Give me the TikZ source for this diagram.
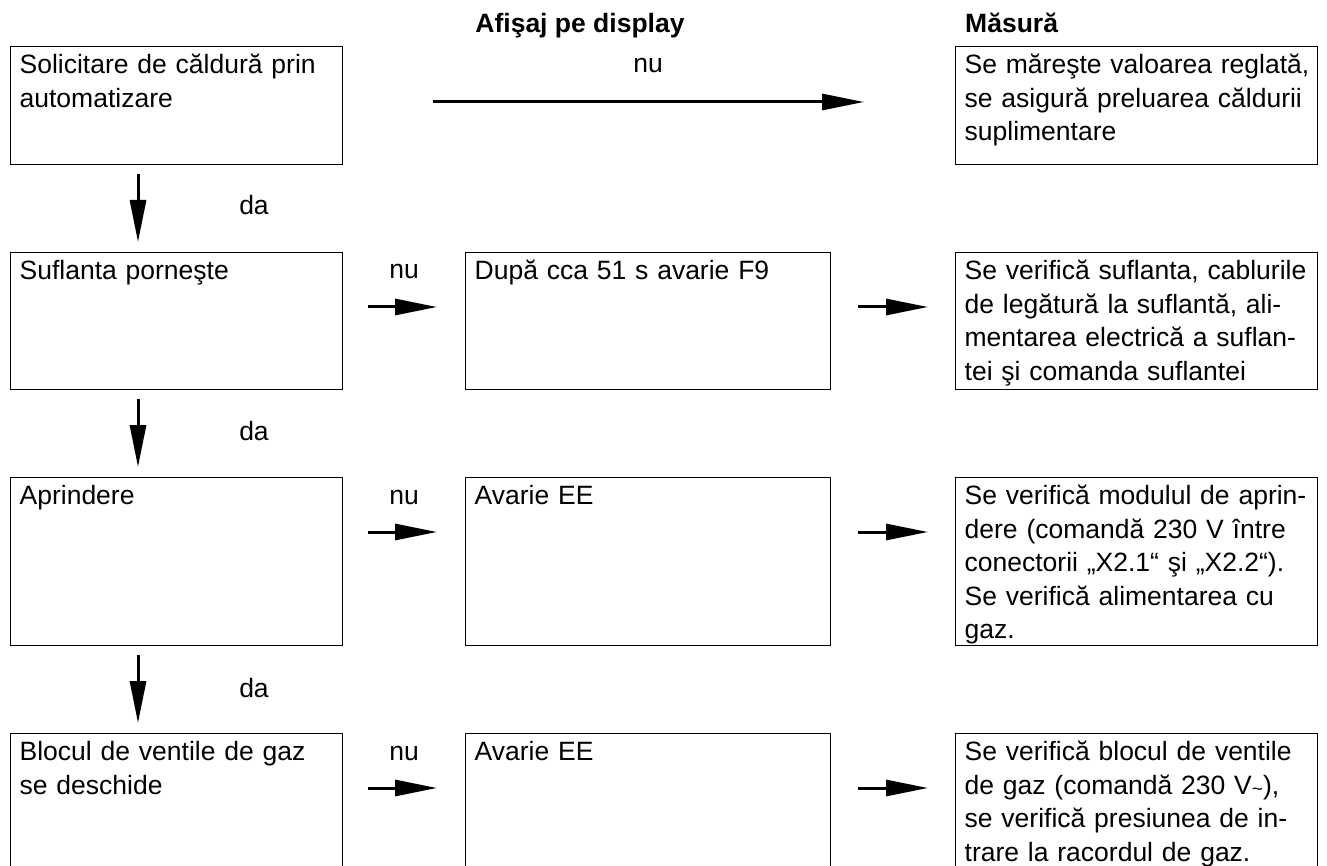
\documentclass[tikz,border=0pt]{standalone}
\usepackage{fontspec}
\setmainfont{Liberation Sans}
\usetikzlibrary{arrows.meta}
\newcommand{\flowfont}{\fontsize{26.5}{33.5}\selectfont}
\newcommand{\acsign}{{\fontsize{19}{19}\selectfont\raisebox{-1.5pt}{\textasciitilde}}}

\begin{document}
\begin{tikzpicture}[x=1pt,y=-1pt,
  stepbox/.style={draw,line width=1.3pt,anchor=north west,align=left,inner xsep=9pt,inner ysep=0pt,text height=27pt,font=\flowfont},
  colA/.style={stepbox,text width=314pt},
  colB/.style={stepbox,text width=347pt},
  colC/.style={stepbox,text width=344pt},
  flow/.style={line width=3pt,-{Triangle[length=42pt,width=16pt]}},
  tag/.style={font=\flowfont,anchor=base,inner sep=0pt},
  head/.style={font=\flowfont\bfseries,inner sep=0pt}]
  \useasboundingbox (0,0) rectangle (1327,866);
  \clip (0,0) rectangle (1327,866);
  % column heads
  \node[head,anchor=base] (hdisp) at (580,33) {Afişaj pe display};
  \node[head,anchor=base west] (hmeas) at (965,33) {Măsură};
  % row 1
  \node[colA,text depth=91pt] (s1) at (10,46) {Solicitare de căldură prin\\automatizare};
  \node[colC,text depth=91pt] (m1) at (955,46) {\mbox{Se măreşte valoarea reglată,}\\se asigură preluarea căldurii\\suplimentare};
  \node[tag] (nu1) at (648,73) {nu};
  \draw[flow,shorten <=90pt,shorten >=91pt] ([yshift=-56pt]s1.north east) -- ([yshift=-56pt]m1.north west);
  % row 2
  \node[colA,text depth=110pt] (s2) at (10,252) {Suflanta porneşte};
  \node[colB,text depth=110pt] (d2) at (465,252) {După cca 51 s avarie F9};
  \node[colC,text depth=110pt] (m2) at (955,252) {Se verifică suflanta, cablurile\\de legătură la suflantă, ali-\\mentarea electrică a suflan-\\tei şi comanda suflantei};
  \node[tag] (da1) at (254,215) {da};
  \node[tag] (nu2) at (404,279) {nu};
  \draw[flow,shorten <=9pt,shorten >=10pt] ([xshift=128pt]s1.south west) -- ([xshift=128pt]s2.north west);
  \draw[flow,shorten <=25pt,shorten >=28pt] ([yshift=-55pt]s2.north east) -- ([yshift=-55pt]d2.north west);
  \draw[flow,shorten <=27pt,shorten >=27pt] ([yshift=-55pt]d2.north east) -- ([yshift=-55pt]m2.north west);
  % row 3
  \node[colA,text depth=141pt] (s3) at (10,477) {Aprindere};
  \node[colB,text depth=141pt] (d3) at (465,477) {Avarie EE};
  \node[colC,text depth=141pt] (m3) at (955,477) {Se verifică modulul de aprin-\\dere (comandă 230 V între\\conectorii „X2.1“ şi „X2.2“).\\Se verifică alimentarea cu\\gaz.};
  \node[tag] (da2) at (254,440) {da};
  \node[tag] (nu3) at (404,504) {nu};
  \draw[flow,shorten <=9pt,shorten >=10pt] ([xshift=128pt]s2.south west) -- ([xshift=128pt]s3.north west);
  \draw[flow,shorten <=25pt,shorten >=28pt] ([yshift=-55pt]s3.north east) -- ([yshift=-55pt]d3.north west);
  \draw[flow,shorten <=27pt,shorten >=27pt] ([yshift=-55pt]d3.north east) -- ([yshift=-55pt]m3.north west);
  % row 4
  \node[colA,text depth=173pt] (s4) at (10,733) {Blocul de ventile de gaz\\se deschide};
  \node[colB,text depth=173pt] (d4) at (465,733) {Avarie EE};
  \node[colC,text depth=173pt] (m4) at (955,733) {Se verifică blocul de ventile\\de gaz (comandă 230 V\acsign),\\se verifică presiunea de in-\\trare la racordul de gaz.};
  \node[tag] (da3) at (254,697) {da};
  \node[tag] (nu4) at (404,760) {nu};
  \draw[flow,shorten <=9pt,shorten >=10pt] ([xshift=128pt]s3.south west) -- ([xshift=128pt]s4.north west);
  \draw[flow,shorten <=25pt,shorten >=28pt] ([yshift=-55pt]s4.north east) -- ([yshift=-55pt]d4.north west);
  \draw[flow,shorten <=27pt,shorten >=27pt] ([yshift=-55pt]d4.north east) -- ([yshift=-55pt]m4.north west);
\end{tikzpicture}
\end{document}
